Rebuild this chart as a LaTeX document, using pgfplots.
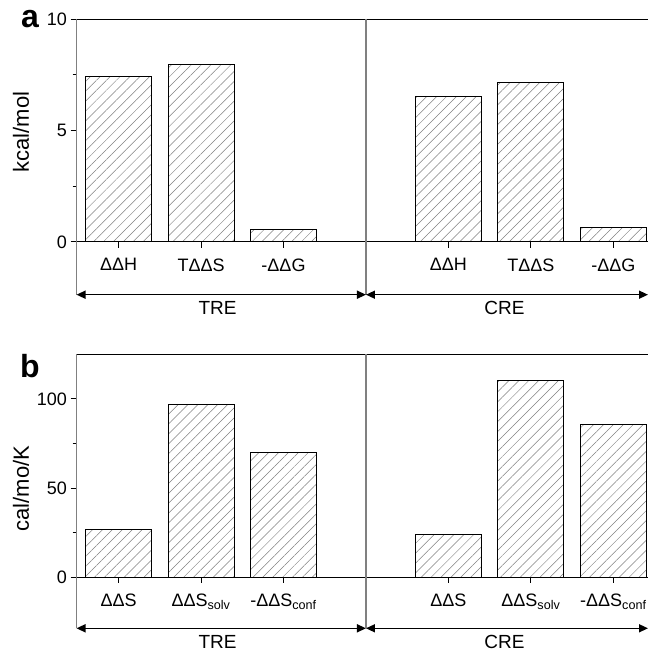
\documentclass[border=0pt]{standalone}
\usepackage{fontspec}
\setmainfont{Liberation Sans}
\usepackage{pgfplots}
\pgfplotsset{compat=1.18}
\usetikzlibrary{patterns.meta,arrows.meta}

\pgfplotsset{
  panel/.style={
    scale only axis, width=571.5pt,
    xmin=0.49, xmax=7.42,
    axis x line=middle, axis y line=left,
    axis line style={-, line width=1.1pt},
    x axis line style={black},
    y axis line style={gray},
    xtick={1,2,3,5,6,7},
    ytick align=outside,
    major tick length=6pt, minor tick length=4pt,
    tick style={black, line width=0.9pt},
    xtick style={draw=none},
    ybar, bar width=0.8, bar shift=0pt,
    clip=false,
    tick label style={font=\fontsize{18}{21}\selectfont},
    xticklabel style={yshift=-7pt},
    /pgf/number format/assume math mode=true,
    ylabel style={font=\fontsize{22}{26}\selectfont, anchor=center},
  },
}
\tikzset{
  hatch/.style={draw=black, line width=0.9pt,
    pattern={Lines[angle=45,distance=7pt,line width=0.5pt]}, pattern color=gray},
  grp/.style={line width=1.5pt, {Triangle[length=9pt,width=8pt]}-{Triangle[length=9pt,width=8pt]}},
  xt/.style={line width=0.9pt},
}

\begin{document}
\begin{tikzpicture}
\path[use as bounding box] (0,0) rectangle (648pt,652pt);

% panel a
\begin{axis}[panel, at={(76.5pt,357.3pt)}, anchor=south west, height=275.4pt,
  ymin=-2.37, ymax=10, ytick={0,5,10}, minor ytick={2.5,7.5},
  xticklabels={ΔΔH, TΔΔS, -ΔΔG, ΔΔH, TΔΔS, -ΔΔG},
  ylabel={kcal/mol}, ylabel style={at={(axis description cs:-0.097,0.59)}}]
\addplot[hatch] coordinates {(1,7.42) (2,7.99) (3,0.57) (5,6.52) (6,7.17) (7,0.63)};
\pgfplotsinvokeforeach{1,2,3,5,6,7}{\draw[xt] (axis cs:#1,0) -- ([yshift=-6pt]axis cs:#1,0);}
\draw[line width=1.5pt] (rel axis cs:0,1) -- (rel axis cs:1,1);
\draw[gray, line width=1.1pt] (axis cs:4,-2.37) -- (axis cs:4,10);
\draw[grp] (axis cs:0.49,-2.37) -- (axis cs:4,-2.37);
\draw[grp] (axis cs:4,-2.37) -- (axis cs:7.42,-2.37);
\node[anchor=north, font=\fontsize{19}{21}\selectfont] at (axis cs:2.2,-2.5) {TRE};
\node[anchor=north, font=\fontsize{19}{21}\selectfont] at (axis cs:5.68,-2.5) {CRE};
\end{axis}

% panel b
\begin{axis}[panel, at={(76.5pt,23.7pt)}, anchor=south west, height=274pt,
  ymin=-28.6, ymax=125, ytick={0,50,100}, minor ytick={25,75},
  xticklabels={ΔΔS, ΔΔS\textsubscript{solv}, -ΔΔS\textsubscript{conf}, ΔΔS, ΔΔS\textsubscript{solv}, -ΔΔS\textsubscript{conf}},
  ylabel={cal/mo/K}, ylabel style={at={(axis description cs:-0.097,0.51)}}]
\addplot[hatch] coordinates {(1,27) (2,97) (3,69.7) (5,24.2) (6,110.1) (7,85.7)};
\pgfplotsinvokeforeach{1,2,3,5,6,7}{\draw[xt] (axis cs:#1,0) -- ([yshift=-6pt]axis cs:#1,0);}
\draw[line width=1.5pt] (rel axis cs:0,1) -- (rel axis cs:1,1);
\draw[gray, line width=1.1pt] (axis cs:4,-28.6) -- (axis cs:4,125);
\draw[grp] (axis cs:0.49,-28.6) -- (axis cs:4,-28.6);
\draw[grp] (axis cs:4,-28.6) -- (axis cs:7.42,-28.6);
\node[anchor=north, font=\fontsize{19}{21}\selectfont] at (axis cs:2.2,-30.5) {TRE};
\node[anchor=north, font=\fontsize{19}{21}\selectfont] at (axis cs:5.68,-30.5) {CRE};
\end{axis}

\node[font=\fontsize{32}{34}\bfseries, anchor=base] at (30pt,624pt) {a};
\node[font=\fontsize{32}{34}\bfseries, anchor=base] at (30pt,274pt) {b};
\end{tikzpicture}
\end{document}
